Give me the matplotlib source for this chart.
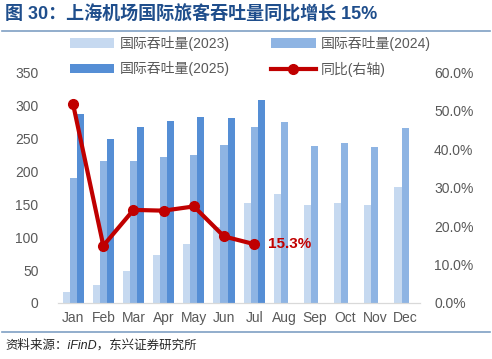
import matplotlib
matplotlib.use("Agg")
import matplotlib.pyplot as plt
import numpy as np
from matplotlib.ticker import PercentFormatter, FixedLocator

plt.rcParams['font.family'] = ['Liberation Sans', 'Noto Sans CJK SC', 'DejaVu Sans']

months = ['Jan', 'Feb', 'Mar', 'Apr', 'May', 'Jun', 'Jul', 'Aug', 'Sep', 'Oct', 'Nov', 'Dec']
vol_2023 = [17, 28, 49, 73, 90, 115, 151, 166, 148, 151, 148, 176]
vol_2024 = [190, 216, 215, 222, 225, 239, 267, 275, 238, 243, 236, 266]
vol_2025 = [287, 248, 267, 276, 282, 281, 308]
yoy = [51.6, 14.9, 24.2, 24.0, 25.1, 17.3, 15.3]

c23, c24, c25 = '#c6d9f0', '#8eb4e3', '#558ed5'
red = '#c00000'
grey = '#595959'
navy = '#1f4e8c'

fig = plt.figure(figsize=(4.92, 3.59), dpi=100)
ax = fig.add_axes([0.118, 0.156, 0.736, 0.643])
ax2 = ax.twinx()

x = np.arange(len(months))
w = 0.235
b1 = ax.bar(x - w, vol_2023, w, color=c23, label='国际吞吐量(2023)', zorder=2)
b2 = ax.bar(x, vol_2024, w, color=c24, label='国际吞吐量(2024)', zorder=2)
b3 = ax.bar(x[:len(vol_2025)] + w, vol_2025, w, color=c25, label='国际吞吐量(2025)', zorder=2)

ln, = ax2.plot(x[:len(yoy)], yoy, color=red, lw=3, marker='o', ms=7,
               label='同比(右轴)', zorder=5)
ax2.text(x[len(yoy) - 1] + 0.45, yoy[-1], f'{yoy[-1]:.1f}%', color=red,
         fontsize=11, fontweight='bold', va='center', ha='left')

ax.set_xlim(-0.5, 11.5)
ax.set_ylim(0, 350)
ax.yaxis.set_major_locator(FixedLocator(range(0, 351, 50)))
ax2.set_ylim(0, 60)
ax2.yaxis.set_major_locator(FixedLocator(range(0, 61, 10)))
ax2.yaxis.set_major_formatter(PercentFormatter(decimals=1))
ax.set_xticks(x)
ax.set_xticklabels(months)

for a in (ax, ax2):
    for s in ('top', 'left', 'right'):
        a.spines[s].set_visible(False)
    a.spines['bottom'].set_color('#d9d9d9')
    a.tick_params(length=0, colors=grey, labelsize=10)
ax.tick_params(axis='y', pad=14)
ax2.tick_params(axis='y', pad=10)
ax.tick_params(axis='x', pad=6)
ax2.set_zorder(ax.get_zorder() + 1)
ax2.patch.set_visible(False)

# legend fills column-wise: order so rows read 2023/2024, 2025/yoy
fig.legend(handles=[b1, b3, b2, ln], ncol=2, loc='upper left',
           bbox_to_anchor=(0.13, 0.915), frameon=False, fontsize=10,
           labelcolor=grey, handlelength=3.2, handletextpad=0.4,
           columnspacing=3.0, labelspacing=0.75, borderaxespad=0)

fig.text(0.01, 0.96, '图 30：上海机场国际旅客吞吐量同比增长 15%', color=navy,
         fontsize=13, fontweight='bold', va='center', ha='left')
fig.add_artist(plt.Line2D([0.005, 0.995], [0.915, 0.915], color='#7f9fc4', lw=1.2))
fig.add_artist(plt.Line2D([0.005, 0.995], [0.075, 0.075], color='#7f9fc4', lw=1.2))
fig.text(0.01, 0.038, '资料来源：iFinD，东兴证券研究所', color='#262626',
         fontsize=9, style='italic', va='center', ha='left')

fig.savefig('out.png', dpi=100)
